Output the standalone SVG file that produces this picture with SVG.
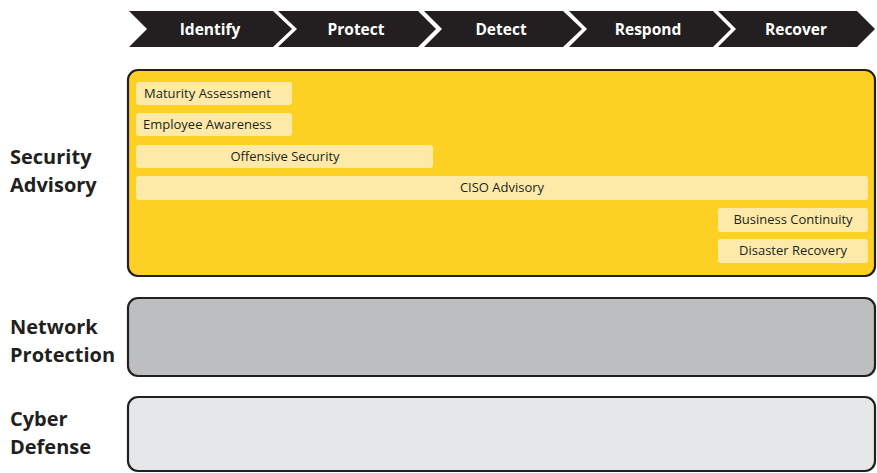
<svg xmlns="http://www.w3.org/2000/svg" width="877" height="473" viewBox="0 0 877 473">
<style>
.chev{fill:#231f20}
.chevt{font-family:"Open Sans","Liberation Sans",sans-serif;font-weight:bold;font-size:15.5px;fill:#ffffff;text-anchor:middle}
.lane{stroke:#231f20;stroke-width:2.2}
.lab{font-family:"Open Sans","Liberation Sans",sans-serif;font-weight:bold;font-size:20px;fill:#231f20}
.pill{fill:#fdeaa8}
.pt{font-family:"Open Sans","Liberation Sans",sans-serif;font-size:13px;fill:#231f20}
</style>
<g id="phases">
<g id="identify"><polygon class="chev" points="129,11 273,11 292,29 273,47 129,47 147,29"/><text class="chevt" x="210" y="35">Identify</text></g>
<g id="protect"><polygon class="chev" points="278,11 418,11 436,29 418,47 278,47 297,29"/><text class="chevt" x="356" y="35">Protect</text></g>
<g id="detect"><polygon class="chev" points="424,11 563,11 582,29 563,47 424,47 442,29"/><text class="chevt" x="501" y="35">Detect</text></g>
<g id="respond"><polygon class="chev" points="569,11 713,11 731,29 713,47 569,47 587,29"/><text class="chevt" x="648" y="35">Respond</text></g>
<g id="recover"><polygon class="chev" points="718,11 857,11 875,29 857,47 718,47 736,29"/><text class="chevt" x="796" y="35">Recover</text></g>
</g>
<g id="security-advisory">
<rect class="lane" x="128" y="70" width="747" height="206" rx="10" fill="#fdd124"/>
<text class="lab" x="10" y="164">Security</text>
<text class="lab" x="10" y="192">Advisory</text>
</g>
<g id="network-protection">
<rect class="lane" x="128" y="298" width="747" height="78" rx="10" fill="#bcbec0"/>
<text class="lab" x="10" y="334">Network</text>
<text class="lab" x="10" y="362">Protection</text>
</g>
<g id="cyber-defense">
<rect class="lane" x="128" y="397" width="747" height="74" rx="10" fill="#e6e7e8"/>
<text class="lab" x="10" y="426">Cyber</text>
<text class="lab" x="10" y="454">Defense</text>
</g>
<g id="maturity-assessment"><rect class="pill" x="136" y="82" width="156" height="23" rx="3"/><text class="pt" x="144" y="98">Maturity Assessment</text></g>
<g id="employee-awareness"><rect class="pill" x="136" y="113" width="156" height="23" rx="3"/><text class="pt" x="143" y="129">Employee Awareness</text></g>
<g id="offensive-security"><rect class="pill" x="136" y="145" width="297" height="23" rx="3"/><text class="pt" x="285" y="161" text-anchor="middle">Offensive Security</text></g>
<g id="ciso-advisory"><rect class="pill" x="136" y="176" width="732" height="24" rx="3"/><text class="pt" x="502" y="192" text-anchor="middle">CISO Advisory</text></g>
<g id="business-continuity"><rect class="pill" x="718" y="208" width="150" height="24" rx="3"/><text class="pt" x="793" y="224" text-anchor="middle">Business Continuity</text></g>
<g id="disaster-recovery"><rect class="pill" x="718" y="239" width="150" height="24" rx="3"/><text class="pt" x="793" y="255" text-anchor="middle">Disaster Recovery</text></g>
<g id="connectors"/>
</svg>
